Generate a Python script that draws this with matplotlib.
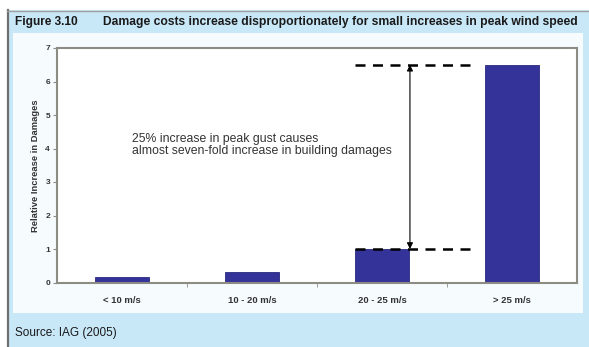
import matplotlib.pyplot as plt
from matplotlib.patches import Rectangle
from matplotlib.lines import Line2D

# wind speed bands and relative damage
categories = ['< 10 m/s', '10 - 20 m/s', '20 - 25 m/s', '> 25 m/s']
damages = [0.15, 0.3, 1.0, 6.5]
y_ticks = [0, 1, 2, 3, 4, 5, 6, 7]

W, H = 589, 347
BLUE = '#c8e7f7'
BAR = '#333399'
EDGE = '#8c8c84'

plt.rcParams['font.family'] = ['Liberation Sans', 'DejaVu Sans']


def fx(px):
    return px / W


def fy(py):
    return 1 - py / H


def box(fig, x0, y0, x1, y1, color):
    # rectangle given in pixel coords measured from the top left corner
    fig.patches.append(Rectangle((fx(x0), fy(y1)), fx(x1) - fx(x0), fy(y0) - fy(y1),
                                 transform=fig.transFigure, facecolor=color,
                                 edgecolor='none', zorder=-2))


def main():
    fig = plt.figure(figsize=(W / 100, H / 100), dpi=100)
    fig.patch.set_facecolor('white')

    # outer blue panel, frame lines on the left and top, lighter inner panel
    box(fig, 7, 10, 589, 347, BLUE)
    box(fig, 13, 33, 583, 313, '#f6fbfe')
    fig.lines.append(Line2D([fx(7.5), fx(7.5)], [fy(10), fy(347)], transform=fig.transFigure,
                            color='#6f6f6f', lw=1.6, zorder=-1))
    fig.lines.append(Line2D([fx(7), fx(589)], [fy(10.5), fy(10.5)], transform=fig.transFigure,
                            color='#a0a0a0', lw=1.0, zorder=-1))

    fig.text(fx(15), fy(22), 'Figure 3.10', fontsize=8.6, fontweight='bold',
             color='#1a1a1a', va='center', ha='left')
    fig.text(fx(103), fy(22),
             'Damage costs increase disproportionately for small increases in peak wind speed',
             fontsize=8.7, fontweight='bold', color='#1a1a1a', va='center', ha='left')
    fig.text(fx(15), fy(333), 'Source: IAG (2005)', fontsize=8.5, color='#1a1a1a',
             va='center', ha='left')

    ax = fig.add_axes([fx(57), fy(282.5), fx(577) - fx(57), fy(48) - fy(282.5)])
    ax.set_zorder(1)
    ax.set_facecolor('white')
    x = list(range(len(categories)))
    ax.bar(x, damages, width=0.41, color=BAR, edgecolor='#2a2a80', linewidth=0.6, zorder=2)

    ax.set_xlim(-0.5, 3.5)
    ax.set_ylim(0, 7)
    ax.set_yticks(y_ticks)
    ax.set_yticklabels([str(t) for t in y_ticks], fontsize=6, fontweight='bold', color='#333333')
    ax.set_xticks(x)
    ax.set_xticklabels(categories, fontsize=6.8, fontweight='bold', color='#333333')
    ax.set_xticks([0.5, 1.5, 2.5], minor=True)
    ax.tick_params(axis='x', which='major', length=0, pad=10)
    ax.tick_params(axis='x', which='minor', length=3, color=EDGE, direction='out')
    ax.tick_params(axis='y', length=3, color=EDGE, direction='out', pad=2)
    for s in ax.spines.values():
        s.set_color(EDGE)
        s.set_linewidth(1.5)
    ax.set_ylabel('Relative Increase in Damages', fontsize=6.75, fontweight='bold',
                  color='#333333', labelpad=4)

    # dashed guides at the two bar heights and the double arrow between them
    ax.plot([1.79, 2.71], [damages[3], damages[3]], color='black', lw=1.8,
            dashes=(4, 3), zorder=3)
    ax.plot([1.79, 2.71], [damages[2], damages[2]], color='black', lw=1.8,
            dashes=(4, 3), zorder=3)
    ax.annotate('', xy=(2.215, damages[3]), xytext=(2.215, damages[2]),
                arrowprops=dict(arrowstyle='<|-|>', color='black', lw=0.8,
                                mutation_scale=9, shrinkA=0, shrinkB=0), zorder=4)

    ax.text(0.08, 4.1, '25% increase in peak gust causes\nalmost seven-fold increase in building damages',
            fontsize=8.8, color='#333333', va='center', ha='left', linespacing=0.98)

    fig.savefig('out.png', dpi=100, facecolor=fig.get_facecolor())


if __name__ == "__main__":
    main()
